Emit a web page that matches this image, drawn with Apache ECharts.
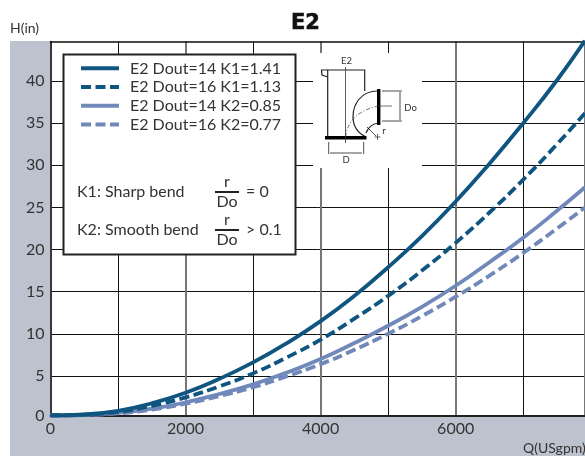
<!DOCTYPE html>
<html><head><meta charset="utf-8">
<style>html,body{margin:0;padding:0;background:#fff}#c{width:585px;height:456px}</style>
<script src="https://cdn.jsdelivr.net/npm/echarts@6/dist/echarts.min.js"></script>
</head><body><div id="c"></div>
<script>
const flows = [0,500,1000,1500,2000,2500,3000,3500,4000,4500,5000,5500,6000,6500,7000,7500,7915];
const d14k1 = [0.32,0.42,0.85,1.75,3.0,4.65,6.6,8.9,11.5,14.5,17.9,21.6,25.7,30.2,35,40.1,44.8];
const d16k1 = [0.32,0.4,0.72,1.45,2.45,3.75,5.3,7.2,9.3,11.8,14.5,17.5,20.8,24.4,28.3,32.5,36.2];
const d14k2 = [0.3,0.36,0.6,1.1,1.85,2.85,4.0,5.4,7.0,8.9,10.95,13.2,15.7,18.5,21.4,24.6,27.4];
const d16k2 = [0.3,0.35,0.55,1.0,1.7,2.6,3.65,4.95,6.4,8.1,10.0,12.1,14.4,16.9,19.6,22.5,25.0];
const seriesNames = ['E2 Dout=14 K1=1.41','E2 Dout=16 K1=1.13','E2 Dout=14 K2=0.85','E2 Dout=16 K2=0.77'];
const yTicks = [0.24,5,10,15,20,25,30,35,40];
const dark = '#0f5580', light = '#7089ba';
const font = 'Lato';
const pts = a => flows.map((q,i)=>[q,a[i]]);
const ser = (i,a,color,dash,z) => ({name:seriesNames[i],type:'line',data:pts(a),smooth:true,showSymbol:false,symbol:'none',z,
  lineStyle:{color,width:3.8,type:dash?[10,4.5]:'solid'},itemStyle:{color}});
const txt = (x,y,text,size,extra) => ({type:'text',z:20,x,y,style:Object.assign({text,fontFamily:font,fontSize:size,fill:'#333',align:'left',verticalAlign:'middle'},extra||{})});
const ln = (x1,y1,x2,y2,w,c) => ({type:'line',z:20,shape:{x1,y1,x2,y2},style:{stroke:c||'#222',lineWidth:w||1}});
const poly = (points,w,c) => ({type:'polyline',z:20,shape:{points},style:{fill:null,stroke:c||'#222',lineWidth:w||1}});
const bez = (x1,y1,cpx1,cpy1,cpx2,cpy2,x2,y2,w,c,dash) => ({type:'bezierCurve',z:20,shape:{x1,y1,cpx1,cpy1,cpx2,cpy2,x2,y2},style:{fill:null,stroke:c||'#222',lineWidth:w||1,lineDash:dash||null}});
const fraction = (y) => [txt(227,y-10,'r',16,{align:'center'}),ln(215,y,239,y,2,'#222'),txt(227,y+10,'Do',16,{align:'center'})];
const graphics = [
  {type:'rect',z:-1,shape:{x:10,y:41,width:575,height:415},style:{fill:'#bdc3ce'}},
  {type:'rect',z:10,shape:{x:63.5,y:54.5,width:232,height:200},style:{fill:'#fff',stroke:'#222',lineWidth:2}},
  {type:'rect',z:10,shape:{x:313,y:53,width:109,height:115},style:{fill:'#fff'}},
  txt(10,28,'H(in)',14),
  txt(523,448,'Q(USgpm)',14),
  txt(77,192,'K1: Sharp bend',16),
  txt(77,230,'K2: Smooth bend',16),
  ...fraction(192),...fraction(230),
  txt(246,192,'= 0',16),
  txt(246,230,'> 0.1',16),
  txt(346.5,61,'E2',9.5,{align:'center'}),
  txt(410.5,108,'Do',9.5,{align:'center'}),
  txt(384,131,'r',9.5,{align:'center'}),
  txt(346,159.5,'D',9.5,{align:'center'}),
  poly([[327.7,137],[327.7,70],[364.7,70],[364.7,91]],1.2),
  poly([[327.7,70],[321.5,70],[322,75],[327.7,77]],1.2),
  bez(378,91,360,91,353,105,353,117,1.2),
  bez(353,117,353,127,358,133,366,137,1.2),
  bez(378,123,372,124,368,128,366,133,1.2),
  ln(378.7,89,378.7,125,3.4,'#000'),
  ln(325,137.7,366.5,137.7,3.4,'#000'),
  ln(345.5,67,345.5,143,0.8,'#333'),
  bez(345.5,137,347,126,352,112,378,106,0.7,'#333',[4,2,1,2]),
  ln(378,106,392,106,0.7,'#333'),
  ln(382,91,402,91,0.8),ln(382,121,402,121,0.8),ln(400,92,400,120,0.8),
  ln(328.7,142,328.7,154,0.8),ln(363.7,142,363.7,154,0.8),ln(330,153,362,153,0.8),
  ln(367,127,376,136,0.8),ln(377.5,134,377.5,140,0.7),ln(374.5,137,380.5,137,0.7),
];
const chart = echarts.init(document.getElementById('c'),null,{renderer:'canvas'});
chart.setOption({
  animation:false,
  title:{text:'E2',left:286,top:8,textStyle:{fontFamily:'DejaVu Sans',fontWeight:'bold',fontSize:21,color:'#111',textBorderColor:'#111',textBorderWidth:0.6}},
  grid:{left:50.5,right:0,top:41.5,bottom:40,show:true,backgroundColor:'#fff',borderWidth:0,z:0},
  xAxis:[
    {type:'value',min:0,max:7915,interval:1000,position:'bottom',
     axisLine:{show:true,onZero:false,lineStyle:{color:'#222',width:2}},axisTick:{show:false},
     axisLabel:{color:'#333',fontFamily:font,fontSize:16,margin:5,showMaxLabel:false,formatter:v=>v%2000===0?String(v):''},
     splitLine:{show:true,lineStyle:{color:['transparent','#111'],width:1}}},
    {type:'value',min:0,max:7915,interval:2000,position:'top',
     axisLine:{show:true,onZero:false,lineStyle:{color:'#111',width:1.5}},axisTick:{show:false},axisLabel:{show:false},
     splitLine:{show:true,lineStyle:{color:'#777',width:2}}}
  ],
  yAxis:{type:'value',min:0.24,max:44.7,
    axisLine:{show:true,onZero:false,lineStyle:{color:'#222',width:1.5}},
    axisTick:{show:false,customValues:yTicks},
    axisLabel:{color:'#333',fontFamily:font,fontSize:16,margin:6,customValues:yTicks,formatter:v=>String(Math.round(v/5)*5)},
    splitLine:{show:true,lineStyle:{color:'#111',width:1}}},
  legend:{show:true,left:79,top:59,orient:'vertical',z:15,itemWidth:38,itemHeight:14,itemGap:0,padding:0,data:seriesNames,
    itemStyle:{opacity:0},lineStyle:{width:4},
    textStyle:{fontFamily:font,fontSize:16,color:'#333',lineHeight:18.7,padding:[0,0,0,6]}},
  series:[ser(0,d14k1,dark,false,6),ser(1,d16k1,dark,true,5),ser(2,d14k2,light,false,4),ser(3,d16k2,light,true,3)],
  graphic:{elements:graphics}
});
</script></body></html>
